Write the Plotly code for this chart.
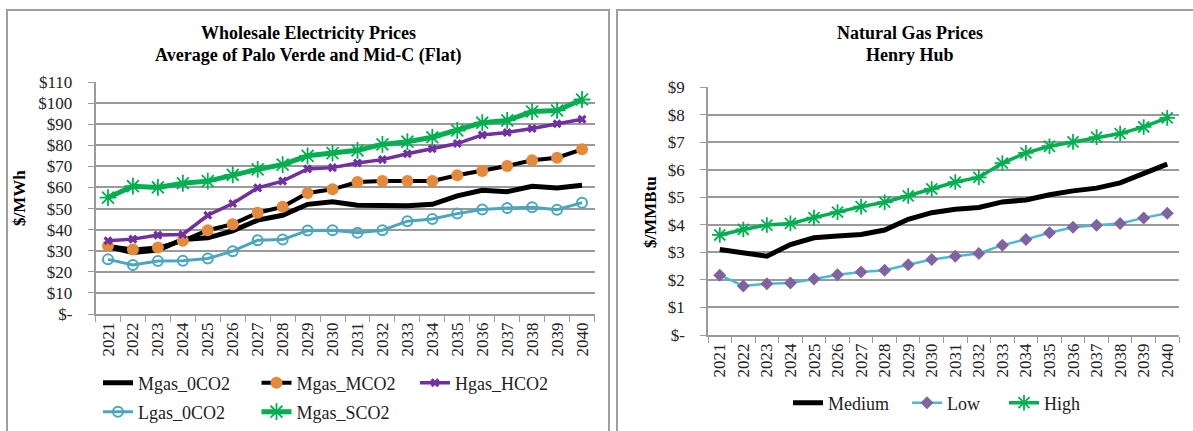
import plotly.graph_objects as go

years = [str(y) for y in range(2021, 2041)]

# Wholesale electricity prices ($/MWh)
mgas_0co2 = [31.9, 29.2, 30.3, 35.3, 36.1, 39.4, 44.5, 46.8, 52.0, 53.2, 51.6, 51.3, 51.3, 52.0, 56.0, 58.7, 58.0, 60.6, 59.8, 61.0]
mgas_mco2 = [32.3, 30.6, 31.5, 34.7, 39.7, 42.6, 48.0, 50.8, 57.4, 59.1, 62.6, 63.1, 63.1, 63.1, 65.8, 67.8, 70.2, 72.9, 74.1, 78.1]
hgas_hco2 = [34.7, 35.5, 37.4, 37.7, 46.8, 52.4, 59.8, 63.0, 68.8, 69.4, 71.6, 73.2, 76.0, 78.4, 80.8, 84.9, 86.1, 88.0, 90.2, 92.3]
lgas_0co2 = [25.9, 23.2, 25.1, 25.2, 26.3, 29.8, 35.0, 35.3, 39.6, 39.7, 38.5, 39.7, 44.0, 45.0, 47.6, 49.5, 50.2, 50.6, 49.4, 52.8]
mgas_sco2 = [55.2, 60.6, 60.0, 62.0, 63.0, 66.0, 68.6, 70.8, 75.0, 76.3, 77.6, 80.4, 81.7, 83.8, 87.0, 90.7, 91.8, 96.0, 96.5, 101.7]

# Henry Hub natural gas prices ($/MMBtu)
gas_medium = [3.10, 2.99, 2.86, 3.28, 3.53, 3.59, 3.65, 3.81, 4.20, 4.44, 4.56, 4.63, 4.83, 4.90, 5.09, 5.23, 5.33, 5.52, 5.88, 6.20]
gas_low = [2.17, 1.78, 1.86, 1.89, 2.03, 2.19, 2.29, 2.35, 2.55, 2.74, 2.86, 2.96, 3.26, 3.47, 3.71, 3.91, 3.98, 4.05, 4.25, 4.42]
gas_high = [3.63, 3.83, 3.99, 4.05, 4.26, 4.46, 4.66, 4.82, 5.05, 5.30, 5.55, 5.72, 6.24, 6.61, 6.85, 7.01, 7.18, 7.31, 7.55, 7.88]

elec_ticks = [0, 10, 20, 30, 40, 50, 60, 70, 80, 90, 100, 110]
elec_ticktext = ["$-", "$10", "$20", "$30", "$40", "$50", "$60", "$70", "$80", "$90", "$100", "$110"]
gas_ticks = [0, 1, 2, 3, 4, 5, 6, 7, 8, 9]
gas_ticktext = ["$-", "$1", "$2", "$3", "$4", "$5", "$6", "$7", "$8", "$9"]

W, H = 1193, 431
FONT = "Liberation Serif"
GREEN = "#00B050"
PURPLE = "#7030A0"
ORANGE = "#E48A3A"
TEAL = "#4AA6BF"
LBLUE = "#4BB8D6"
DIAM = "#8064A2"
GRID = "#9A9A9A"

def px(x):
    return x / W

def py(y):
    return 1 - y / H

fig = go.Figure()

# Left chart
fig.add_trace(go.Scatter(x=years, y=mgas_0co2, name="Mgas_0CO2", mode="lines",
                         line=dict(color="black", width=5), xaxis="x", yaxis="y", legend="legend"))
fig.add_trace(go.Scatter(x=years, y=mgas_mco2, name="Mgas_MCO2", mode="lines+markers",
                         line=dict(color="black", width=4),
                         marker=dict(symbol="circle", size=12, color=ORANGE, line=dict(width=0)),
                         xaxis="x", yaxis="y", legend="legend"))
fig.add_trace(go.Scatter(x=years, y=hgas_hco2, name="Hgas_HCO2", mode="lines+markers",
                         line=dict(color=PURPLE, width=3.5),
                         marker=dict(symbol="x", size=8, color=PURPLE, line=dict(width=0)),
                         xaxis="x", yaxis="y", legend="legend"))
fig.add_trace(go.Scatter(x=years, y=lgas_0co2, name="Lgas_0CO2", mode="lines+markers",
                         line=dict(color=TEAL, width=3),
                         marker=dict(symbol="circle-open", size=10, color=TEAL, line=dict(width=2)),
                         xaxis="x", yaxis="y", legend="legend2"))
fig.add_trace(go.Scatter(x=years, y=mgas_sco2, name="Mgas_SCO2", mode="lines+markers",
                         line=dict(color=GREEN, width=5),
                         marker=dict(symbol="asterisk-open", size=14, color=GREEN, line=dict(width=1.8, color=GREEN)),
                         xaxis="x", yaxis="y", legend="legend2"))

# Right chart
fig.add_trace(go.Scatter(x=years, y=gas_medium, name="Medium", mode="lines",
                         line=dict(color="black", width=5), xaxis="x2", yaxis="y2",
                         legend="legend3", legendwidth=74))
fig.add_trace(go.Scatter(x=years, y=gas_low, name="Low", mode="lines+markers",
                         line=dict(color=LBLUE, width=2.5),
                         marker=dict(symbol="diamond", size=10, color=DIAM, line=dict(width=0)),
                         xaxis="x2", yaxis="y2", legend="legend3", legendwidth=52))
fig.add_trace(go.Scatter(x=years, y=gas_high, name="High", mode="lines+markers",
                         line=dict(color=GREEN, width=3.5),
                         marker=dict(symbol="asterisk-open", size=13, color=GREEN, line=dict(width=1.8, color=GREEN)),
                         xaxis="x2", yaxis="y2", legend="legend3"))

xcommon = dict(type="category", tickson="boundaries", ticks="outside", ticklen=6, tickcolor=GRID,
               showline=True, linecolor=GRID, linewidth=1.5, showgrid=False, tickangle=-90,
               range=[-0.5, 19.5], autorange=False, automargin=False,
               tickfont=dict(family=FONT, size=17, color="#222"), fixedrange=True)
ycommon = dict(ticks="outside", ticklen=6, tickcolor=GRID, showline=True, linecolor=GRID, linewidth=1.5,
               showgrid=True, gridcolor=GRID, gridwidth=1.5, zeroline=False, automargin=False,
               tickfont=dict(family=FONT, size=17, color="#222"), ticklabelstandoff=12, fixedrange=True)

legcommon = dict(orientation="h", font=dict(family=FONT, size=18, color="#222"), bgcolor="rgba(0,0,0,0)",
                 xanchor="left", yanchor="middle", valign="middle", itemclick=False, itemdoubleclick=False)

fig.update_layout(
    width=W, height=H,
    margin=dict(l=0, r=0, t=0, b=0),
    paper_bgcolor="white", plot_bgcolor="white",
    xaxis=dict(domain=[px(95.5), px(594.5)], anchor="y", **xcommon),
    yaxis=dict(domain=[py(314), py(82)], anchor="x", range=[0, 110], tickvals=elec_ticks,
               ticktext=elec_ticktext, **ycommon),
    xaxis2=dict(domain=[px(708), px(1179)], anchor="y2", **xcommon),
    yaxis2=dict(domain=[py(335), py(87)], anchor="x2", range=[0, 9], tickvals=gas_ticks,
                ticktext=gas_ticktext, **ycommon),
    legend=dict(x=px(98), y=py(383), entrywidth=113.5, **legcommon),
    legend2=dict(x=px(98), y=py(412), entrywidth=113.5, **legcommon),
    legend3=dict(x=px(788), y=py(403), **legcommon),
    showlegend=True,
)

title_font = dict(family=FONT, size=18, color="black")
annotations = [
    dict(text="<b>Wholesale Electricity Prices</b>", x=px(308), y=py(33)),
    dict(text="<b>Average of Palo Verde and Mid-C (Flat)</b>", x=px(308), y=py(55)),
    dict(text="<b>Natural Gas Prices</b>", x=px(910), y=py(33)),
    dict(text="<b>Henry Hub</b>", x=px(910), y=py(55)),
]
for a in annotations:
    fig.add_annotation(xref="paper", yref="paper", showarrow=False, xanchor="center", yanchor="middle",
                       font=title_font, **a)
fig.add_annotation(text="<b>$/MWh</b>", xref="paper", yref="paper", x=px(20), y=py(198), showarrow=False,
                   textangle=-90, font=dict(family=FONT, size=17, color="black"),
                   xanchor="center", yanchor="middle")
fig.add_annotation(text="<b>$/MMBtu</b>", xref="paper", yref="paper", x=px(650), y=py(212), showarrow=False,
                   textangle=-90, font=dict(family=FONT, size=17, color="black"),
                   xanchor="center", yanchor="middle")

# Chart frames
fig.add_shape(type="rect", xref="paper", yref="paper", x0=px(7), x1=px(609), y0=py(440), y1=py(10),
              line=dict(color="#A0A0A0", width=2), fillcolor="rgba(0,0,0,0)", layer="below")
fig.add_shape(type="rect", xref="paper", yref="paper", x0=px(617), x1=px(1205), y0=py(440), y1=py(10),
              line=dict(color="#A0A0A0", width=2), fillcolor="rgba(0,0,0,0)", layer="below")

fig.write_html("out.html", config={"displayModeBar": False},
               post_script="document.body.style.margin='0';")
